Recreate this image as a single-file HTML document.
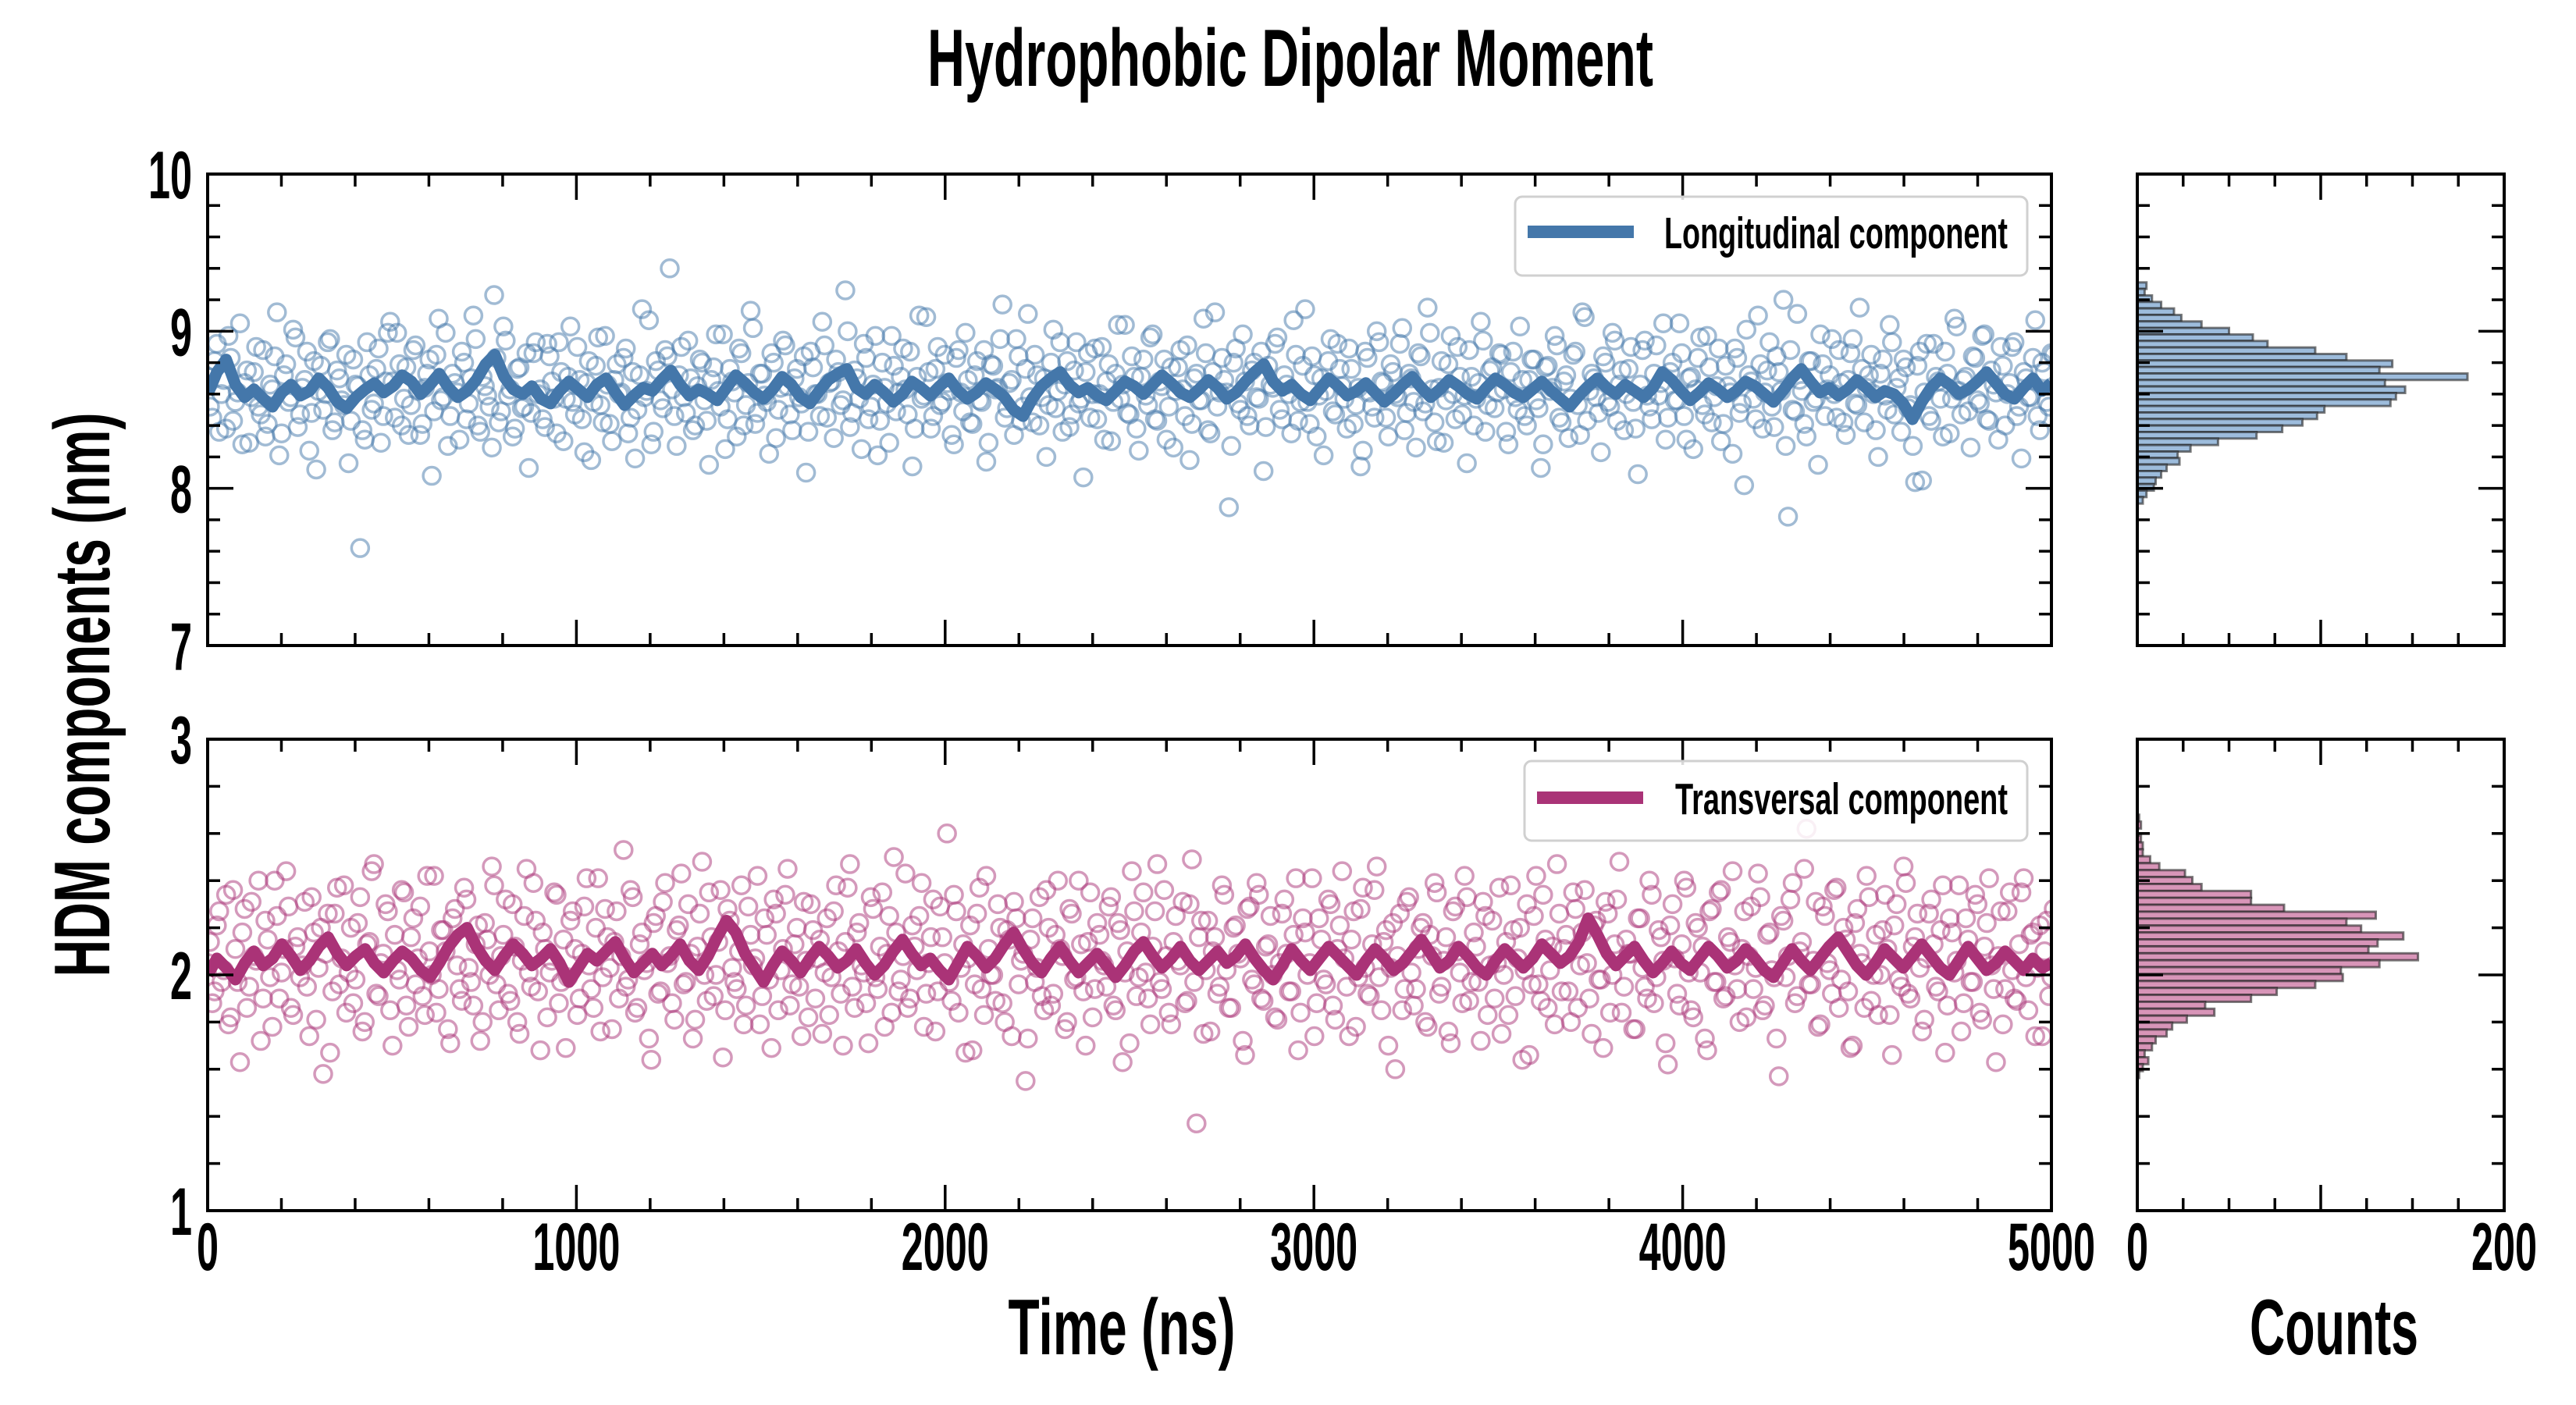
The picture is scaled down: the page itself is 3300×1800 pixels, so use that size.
<!DOCTYPE html>
<html><head><meta charset="utf-8"><title>Hydrophobic Dipolar Moment</title>
<style>
html,body{margin:0;padding:0;background:#fff;}
svg{display:block;}
text{font-family:"Liberation Sans Narrow","Liberation Sans",sans-serif;font-weight:bold;fill:#000;}
</style></head>
<body>
<svg id="chart" width="3300" height="1800" viewBox="0 0 3300 1800" xmlns="http://www.w3.org/2000/svg">
<rect width="3300" height="1800" fill="#fff"/>
<text x="1653" y="110" font-size="104" text-anchor="middle" textLength="930" lengthAdjust="spacingAndGlyphs">Hydrophobic Dipolar Moment</text>
<text transform="translate(140,890) rotate(-90)" x="0" y="0" font-size="101" text-anchor="middle" textLength="723" lengthAdjust="spacingAndGlyphs">HDM components (nm)</text>
<text x="1437" y="1735" font-size="101" text-anchor="middle" textLength="291" lengthAdjust="spacingAndGlyphs">Time (ns)</text>
<text x="2990" y="1735" font-size="101" text-anchor="middle" textLength="216" lengthAdjust="spacingAndGlyphs">Counts</text>
<g id="layer"></g>
</svg>
<script>
// ---------- data ----------
const timeRange = [0, 5000];
const longScatterA = [
8.71,8.45,8.92,8.60,8.38,8.83,8.55,9.05,8.67,8.29,8.74,8.52,8.88,8.41,8.63,9.12,8.35,8.79,8.58,8.96,
8.47,8.69,8.24,8.81,8.62,8.50,8.93,8.37,8.75,8.56,8.85,8.43,8.66,7.62,8.31,8.72,8.54,8.89,8.46,8.99,
8.68,8.99,8.40,8.77,8.53,8.91,8.34,8.64,8.82,8.49,9.08,8.58,8.27,8.73,8.61,8.87,8.44,8.70,8.95,8.36,
8.65,8.52,9.23,8.42,9.03,8.59,8.33,8.76,8.51,8.86,8.48,8.93,8.63,8.39,8.84,8.57,8.93,8.30,8.71,8.55,
8.90,8.44,8.67,8.18,8.78,8.53,8.97,8.41,8.69,8.60,8.83,8.35,8.74,8.50,9.14,8.62,8.28,8.81,8.56,8.88,
9.40,8.46,8.72,8.58,8.94,8.37,8.65,8.80,8.43,8.69,8.98,8.52,8.25,8.76,8.61,8.89,8.40,8.67,9.02,8.48,
8.73,8.55,8.86,8.32,8.64,8.91,8.47,8.70,8.58,8.84,8.36,8.77,8.60,9.06,8.45,8.68,8.82,8.53,9.26,8.39,
8.75,8.57,8.92,8.44,8.66,8.21,8.80,8.54,8.97,8.49,8.71,8.63,8.87,8.38,9.10,8.59,8.74,8.46,8.90,8.55,
8.67,8.34,8.83,8.61,8.99,8.42,8.72,8.56,8.88,8.29,8.78,8.64,9.17,8.51,8.69,8.95,8.43,8.76,8.58,8.85,
8.40,8.70,8.53,9.01,8.62,8.36,8.81,8.47,8.93,8.57,8.74,8.45,8.89,8.60,8.31,8.79,8.55,9.04,8.66,8.48,
8.84,8.38,8.71,8.59,8.96,8.44,8.68,8.82,8.52,8.26,8.77,8.63,8.91,8.41,8.73,8.56,8.86,8.35,9.12,8.61,
8.69,7.88,8.80,8.54,8.98,8.46,8.75,8.58,8.87,8.39,8.66,8.92,8.50,8.72,8.60,9.07,8.43,8.78,8.55,8.84,
8.33,8.70,8.62,8.95,8.47,8.76,8.57,8.89,8.41,8.64,8.24,8.83,8.52,9.00,8.68,8.45,8.79,8.60,8.92,8.37,
8.73,8.55,8.86,8.49,9.15,8.63,8.30,8.81,8.56,8.97,8.44,8.71,8.59,8.88,8.40,8.67,8.94,8.53,8.77,8.61,
8.85,8.36,8.74,8.58,9.03,8.46,8.69,8.82,8.51,8.28,8.78,8.64,8.91,8.42,8.72,8.57,8.87,8.34,9.09,8.62,
8.70,8.48,8.84,8.55,8.99,8.43,8.75,8.60,8.90,8.38,8.66,8.94,8.52,8.73,8.59,9.05,8.45,8.80,8.56,8.86,
8.31,8.71,8.63,8.96,8.47,8.77,8.58,8.89,8.41,8.65,8.22,8.83,8.54,9.01,8.68,8.44,8.79,8.61,8.93,8.39,
8.74,9.20,7.82,8.50,9.11,8.62,8.33,8.81,8.57,8.98,8.46,8.72,8.60,8.88,8.42,8.69,8.95,8.53,8.76,8.64,
8.85,8.37,8.73,8.59,9.04,8.47,8.70,8.82,8.51,8.27,8.78,8.05,8.92,8.43,8.71,8.57,8.87,8.35,9.08,8.62,
8.69,8.49,8.84,8.56,8.97,8.44,8.75,8.61,8.90,8.40,8.67,8.93,8.52,8.74,8.58,8.83,8.46,8.80,8.55,8.86
];
const longScatterB = [
8.52,8.81,8.36,8.69,8.97,8.43,8.61,8.28,8.75,8.58,8.90,8.47,8.33,8.66,8.84,8.21,8.72,8.55,9.01,8.39,
8.64,8.87,8.48,8.12,8.78,8.60,8.95,8.42,8.70,8.53,8.16,8.82,8.65,8.37,8.93,8.50,8.76,8.29,8.68,9.06,
8.45,8.79,8.57,8.34,8.88,8.62,8.41,8.73,8.08,8.85,8.56,8.99,8.46,8.67,8.31,8.80,8.54,9.10,8.40,8.71,
8.59,8.26,8.83,8.49,8.94,8.63,8.38,8.77,8.52,8.13,8.86,8.60,8.44,8.92,8.68,8.35,8.74,8.57,9.03,8.47,
8.69,8.23,8.81,8.55,8.96,8.42,8.66,8.30,8.79,8.61,8.89,8.45,8.19,8.72,8.58,9.07,8.36,8.75,8.51,8.84,
8.63,8.27,8.90,8.48,8.70,8.40,8.82,8.56,8.15,8.77,8.62,8.98,8.44,8.68,8.33,8.86,8.53,9.13,8.41,8.73,
8.59,8.22,8.80,8.50,8.94,8.65,8.37,8.76,8.54,8.10,8.87,8.60,8.46,8.91,8.67,8.32,8.74,8.56,9.00,8.48,
8.70,8.25,8.83,8.52,8.97,8.43,8.64,8.29,8.78,8.61,8.89,8.47,8.14,8.71,8.57,9.09,8.38,8.76,8.53,8.85,
8.62,8.28,8.88,8.49,8.69,8.41,8.81,8.55,8.17,8.79,8.63,8.95,8.45,8.67,8.34,8.84,8.52,9.11,8.42,8.72,
8.58,8.20,8.80,8.51,8.93,8.66,8.39,8.75,8.54,8.07,8.86,8.60,8.44,8.90,8.68,8.30,8.73,8.57,9.04,8.47,
8.71,8.24,8.82,8.53,8.98,8.43,8.65,8.31,8.77,8.62,8.88,8.46,8.18,8.70,8.56,9.08,8.37,8.74,8.52,8.83,
8.61,8.27,8.89,8.50,8.68,8.40,8.80,8.57,8.11,8.78,8.64,8.96,8.44,8.66,8.35,8.85,8.55,9.14,8.41,8.72,
8.59,8.21,8.81,8.49,8.92,8.65,8.38,8.76,8.53,8.14,8.87,8.61,8.45,8.93,8.67,8.33,8.74,8.58,9.02,8.48,
8.70,8.26,8.84,8.54,8.99,8.42,8.64,8.29,8.79,8.60,8.90,8.47,8.16,8.71,8.57,9.06,8.36,8.75,8.51,8.86,
8.63,8.28,8.87,8.50,8.69,8.40,8.82,8.56,8.13,8.77,8.62,8.97,8.45,8.68,8.32,8.85,8.53,9.12,8.43,8.73,
8.58,8.23,8.80,8.52,8.94,8.66,8.37,8.76,8.55,8.09,8.88,8.59,8.44,8.91,8.67,8.31,8.74,8.56,9.05,8.46,
8.70,8.25,8.83,8.53,8.97,8.42,8.65,8.30,8.78,8.61,8.89,8.48,8.02,8.72,8.57,9.10,8.38,8.75,8.52,8.84,
8.62,8.27,8.88,8.49,8.69,8.41,8.81,8.55,8.15,8.79,8.63,8.95,8.45,8.67,8.34,8.86,8.54,9.15,8.42,8.72,
8.60,8.20,8.82,8.50,8.93,8.64,8.36,8.77,8.53,8.04,8.87,8.61,8.46,8.92,8.68,8.33,8.73,8.57,9.03,8.47,
8.71,8.26,8.83,8.54,8.98,8.43,8.66,8.31,8.78,8.60,8.90,8.46,8.19,8.70,8.58,9.07,8.37,8.74,8.52,8.85
];
const transScatterA = [
2.05,1.88,2.21,1.97,2.34,1.82,2.11,1.63,2.28,1.95,2.08,2.40,1.90,2.15,1.78,2.25,2.01,2.44,1.86,2.12,
1.99,2.31,1.74,2.18,2.03,1.58,2.26,1.93,2.37,2.07,1.84,2.20,1.98,2.33,1.80,2.14,2.47,1.91,2.09,2.27,
1.70,2.02,2.36,1.87,2.16,1.96,2.29,1.83,2.10,2.42,1.94,2.19,1.77,2.24,2.04,1.89,2.32,1.97,2.13,1.72,
2.22,2.00,2.38,1.85,2.17,1.92,2.30,1.80,2.06,2.45,1.95,2.23,1.68,2.11,2.01,2.35,1.88,2.15,1.99,2.27,
1.83,2.09,2.41,1.94,2.20,1.76,2.28,2.03,2.14,1.90,2.53,1.98,2.33,1.86,2.18,2.05,1.64,2.25,1.93,2.39,
2.08,1.81,2.21,1.96,2.30,1.73,2.12,2.48,1.89,2.16,2.00,2.36,1.85,2.23,1.97,2.10,1.79,2.29,2.04,2.42,
1.91,2.17,1.69,2.26,2.02,2.34,1.87,2.13,1.95,2.31,1.82,2.19,2.07,1.75,2.24,1.99,2.38,1.92,2.14,2.47,
1.86,2.22,2.01,1.71,2.28,1.94,2.35,2.09,1.84,2.18,1.98,2.43,1.90,2.12,2.25,1.78,2.05,2.32,1.93,2.16,
2.60,1.89,2.27,2.03,1.67,2.21,1.96,2.37,1.83,2.11,2.00,2.30,1.88,2.19,1.74,2.24,2.06,1.55,2.15,1.97,
2.33,1.85,2.20,1.92,2.40,2.08,1.80,2.26,1.99,2.13,1.70,2.35,1.94,2.17,2.04,2.29,1.87,2.22,1.63,2.10,
2.44,1.91,2.18,2.01,1.79,2.27,1.97,2.36,1.84,2.14,2.06,2.31,1.89,2.49,1.37,2.23,2.02,1.76,2.16,1.95,
2.34,1.86,2.20,2.09,1.72,2.28,1.98,2.39,1.90,2.12,2.25,1.82,2.05,2.32,1.93,2.17,1.68,2.24,2.00,2.41,
1.88,2.15,1.96,2.30,1.81,2.21,2.07,1.74,2.27,1.99,2.37,1.92,2.13,2.46,1.85,2.19,2.03,1.60,2.26,1.94,
2.33,1.87,2.11,2.22,1.78,2.08,2.35,1.95,2.16,1.71,2.29,2.01,2.42,1.89,2.18,1.97,2.31,1.83,2.23,2.05,
1.75,2.14,2.38,1.91,2.20,2.02,1.66,2.25,1.96,2.34,1.86,2.12,2.47,1.93,2.17,1.80,2.28,2.04,2.36,1.90,
2.21,1.98,1.69,2.26,2.00,2.32,1.84,2.15,2.09,1.77,2.24,1.95,2.40,1.88,2.19,2.06,1.62,2.30,1.92,2.13,
2.37,1.85,2.22,2.01,1.73,2.27,1.97,2.35,1.90,2.16,2.44,1.94,2.11,1.82,2.29,2.03,2.33,1.87,2.18,1.99,
1.57,2.23,2.08,2.39,1.91,2.14,2.62,1.96,2.31,1.79,2.25,2.02,2.36,1.86,2.20,1.93,1.70,2.28,2.05,2.42,
1.89,2.17,2.00,2.34,1.83,2.21,1.98,2.46,1.92,2.12,2.26,1.76,2.07,2.32,1.95,2.19,1.67,2.24,2.01,2.38,
1.88,2.15,1.97,2.30,1.81,2.22,2.04,1.63,2.27,1.94,2.35,1.90,2.13,2.41,1.85,2.18,2.03,1.74,2.23,1.99
];
const transScatterB = [
2.14,1.93,2.27,2.02,1.79,2.36,1.97,2.18,1.86,2.31,2.06,1.72,2.23,1.99,2.40,1.90,2.11,2.29,1.83,2.16,
2.04,1.95,2.33,1.81,2.20,2.09,1.67,2.26,1.96,2.38,2.01,1.88,2.22,1.76,2.13,2.44,1.92,2.05,2.30,1.85,
2.17,1.98,2.35,1.78,2.24,2.07,1.91,2.42,2.00,1.84,2.19,2.10,1.71,2.28,1.94,2.37,2.03,1.87,2.21,1.80,
2.15,2.46,1.96,2.08,2.32,1.89,2.12,1.75,2.25,2.01,2.39,1.93,2.18,1.82,2.06,2.34,1.97,1.69,2.23,2.11,
1.90,2.29,2.04,1.86,2.41,1.99,2.16,1.77,2.27,2.08,1.95,2.36,1.84,2.13,2.02,1.73,2.22,1.92,2.31,2.05,
1.88,2.19,2.43,1.97,2.09,1.81,2.26,2.00,2.35,1.91,2.14,1.65,2.28,2.03,1.94,2.38,1.87,2.17,2.07,1.79,
2.24,1.98,2.32,1.85,2.11,2.45,1.96,2.20,1.74,2.06,2.30,1.90,2.15,2.01,1.83,2.27,2.10,1.70,2.37,1.95,
2.18,2.04,1.88,2.33,1.99,2.12,1.78,2.25,2.50,1.93,2.08,1.86,2.21,2.02,2.39,1.92,2.16,1.76,2.29,2.05,
1.97,2.34,1.84,2.13,2.07,1.68,2.26,1.94,2.42,2.00,1.89,2.20,1.80,2.15,2.31,1.96,2.09,1.73,2.24,2.03,
1.91,2.36,1.87,2.17,2.11,1.77,2.28,1.98,2.40,1.93,2.14,1.82,2.22,2.06,1.95,2.33,1.85,2.19,2.01,1.71,
2.27,1.99,2.35,1.90,2.12,2.47,1.94,2.08,1.79,2.25,2.04,1.88,2.30,1.97,2.16,1.75,2.23,2.10,1.92,2.38,
2.02,1.86,2.21,2.07,1.66,2.29,1.96,2.34,1.89,2.13,2.00,1.81,2.26,2.09,1.93,2.41,1.84,2.18,2.05,1.74,
2.24,1.98,2.32,1.87,2.11,2.44,1.95,2.15,1.78,2.28,2.03,1.91,2.36,1.99,2.14,1.70,2.22,2.08,1.85,2.31,
2.01,1.94,2.20,1.80,2.17,2.39,1.92,2.06,1.76,2.27,2.10,1.88,2.33,1.97,2.12,1.72,2.25,2.04,1.90,2.37,
2.00,1.83,2.19,2.07,1.64,2.30,1.96,2.42,1.89,2.15,2.02,1.79,2.26,2.11,1.93,2.35,1.86,2.18,2.05,1.75,
2.23,1.98,2.31,1.84,2.13,2.48,1.95,2.09,1.77,2.24,2.03,1.90,2.34,1.99,2.16,1.71,2.21,2.07,1.87,2.40,
2.01,1.82,2.20,2.12,1.68,2.28,1.97,2.36,1.91,2.14,2.04,1.80,2.27,2.08,1.94,2.43,1.85,2.17,2.02,1.73,
2.25,1.99,2.32,1.88,2.10,2.45,1.96,2.06,1.78,2.29,2.05,1.92,2.37,1.98,2.15,1.69,2.22,2.09,1.86,2.33,
2.00,1.83,2.19,2.11,1.66,2.30,1.95,2.39,1.90,2.16,2.03,1.81,2.26,2.13,1.93,2.38,1.87,2.18,2.06,1.76,
2.24,1.97,2.34,1.84,2.12,2.41,1.94,2.08,1.79,2.27,2.02,1.89,2.35,1.99,2.17,1.74,2.21,2.10,1.91,2.28
];
const longLine = [
8.60,8.74,8.82,8.66,8.58,8.63,8.57,8.52,8.61,8.66,8.59,8.62,8.70,8.64,8.55,8.51,8.58,8.63,8.67,8.61,
8.65,8.72,8.68,8.60,8.66,8.73,8.64,8.58,8.62,8.69,8.79,8.85,8.71,8.63,8.60,8.65,8.57,8.54,8.62,8.68,
8.63,8.58,8.66,8.70,8.61,8.53,8.59,8.64,8.62,8.69,8.75,8.66,8.59,8.63,8.60,8.56,8.64,8.72,8.67,8.61,
8.57,8.63,8.71,8.66,8.58,8.54,8.62,8.69,8.73,8.76,8.64,8.60,8.66,8.61,8.55,8.60,8.68,8.64,8.59,8.65,
8.70,8.62,8.57,8.61,8.67,8.63,8.58,8.50,8.46,8.57,8.65,8.70,8.74,8.66,8.61,8.64,8.59,8.56,8.62,8.68,
8.65,8.60,8.66,8.72,8.67,8.61,8.58,8.63,8.69,8.64,8.57,8.61,8.68,8.74,8.79,8.68,8.62,8.66,8.60,8.56,
8.63,8.70,8.65,8.59,8.62,8.67,8.61,8.55,8.60,8.66,8.71,8.64,8.58,8.63,8.69,8.65,8.60,8.57,8.64,8.70,
8.66,8.61,8.58,8.63,8.68,8.62,8.57,8.52,8.59,8.65,8.70,8.64,8.60,8.66,8.62,8.58,8.64,8.74,8.69,8.62,
8.56,8.61,8.67,8.63,8.58,8.62,8.68,8.65,8.60,8.55,8.62,8.70,8.76,8.68,8.61,8.64,8.59,8.63,8.69,8.64,
8.58,8.62,8.60,8.54,8.44,8.55,8.64,8.70,8.66,8.60,8.63,8.68,8.74,8.67,8.60,8.57,8.64,8.70,8.62,8.67
];
const transLine = [
2.00,2.07,2.03,1.98,2.05,2.10,2.04,2.07,2.13,2.08,2.02,2.06,2.12,2.16,2.09,2.04,2.08,2.11,2.05,2.01,
2.06,2.10,2.07,2.02,1.99,2.05,2.12,2.17,2.20,2.12,2.06,2.02,2.08,2.13,2.09,2.04,2.07,2.11,2.05,1.97,
2.03,2.09,2.06,2.10,2.14,2.07,2.01,2.05,2.09,2.04,2.08,2.13,2.06,2.02,2.08,2.16,2.23,2.18,2.09,2.03,
1.97,2.04,2.10,2.06,2.01,2.07,2.12,2.08,2.03,2.06,2.11,2.05,2.00,2.04,2.10,2.15,2.09,2.04,2.07,2.02,
1.98,2.05,2.12,2.08,2.03,2.07,2.13,2.18,2.11,2.05,2.01,2.07,2.12,2.06,2.01,2.05,2.09,2.04,1.99,2.04,
2.10,2.14,2.08,2.03,2.07,2.12,2.06,2.02,2.06,2.10,2.05,2.08,2.13,2.07,2.02,1.98,2.04,2.11,2.06,2.02,
2.07,2.12,2.08,2.04,2.00,2.06,2.11,2.07,2.02,2.05,2.10,2.15,2.09,2.03,2.06,2.12,2.08,2.03,2.00,2.06,
2.11,2.07,2.03,2.07,2.13,2.09,2.05,2.08,2.14,2.24,2.17,2.09,2.04,2.08,2.12,2.06,2.01,2.05,2.10,2.05,
2.02,2.07,2.12,2.08,2.03,2.06,2.11,2.07,2.02,1.99,2.05,2.11,2.06,2.02,2.07,2.12,2.16,2.10,2.04,2.00,
2.05,2.11,2.07,2.03,2.08,2.13,2.08,2.03,2.00,2.06,2.12,2.07,2.02,2.05,2.10,2.06,2.02,2.07,2.03,2.05
];
// histograms: bin centers start at top value and step downward
const longHistTop = 9.29, longHistStep = 0.0414;
const longCounts = [5,4,8,13,20,24,35,50,63,71,97,114,139,132,180,135,146,141,138,102,98,90,79,65,44,29,22,23,16,13,10,9,5,3];
const transHistTop = 2.665, transHistStep = 0.0294;
const transCounts = [1,2,0,2,3,3,7,12,26,30,35,62,62,80,130,114,122,145,131,126,153,132,111,112,97,76,62,37,42,27,19,16,10,8,4,6,3,1];
const xTicks = [0,1000,2000,3000,4000,5000];
const longYTicks = [7,8,9,10];
const transYTicks = [1,2,3];
const countTicks = [0,200];

// ---------- layout ----------
const NS = 'http://www.w3.org/2000/svg';
const layer = document.getElementById('layer');
const L = 266, R = 2628, HL = 2738, HR = 3208;
const P1 = {top:223, bot:827, lo:7, hi:10};
const P2 = {top:947, bot:1551, lo:1, hi:3};
const xS = t => L + (t - timeRange[0]) / (timeRange[1] - timeRange[0]) * (R - L);
const cS = c => HL + c / 200 * (HR - HL);
const yS = (p, v) => p.bot - (v - p.lo) / (p.hi - p.lo) * (p.bot - p.top);
function mk(tag, attrs, parent){ const e = document.createElementNS(NS, tag); for (const k in attrs) e.setAttribute(k, attrs[k]); (parent||layer).appendChild(e); return e; }

function drawPanel(p, sets, line, color, lineColor, pname){
  const g = mk('g', {});
  
  
  const clip = mk('clipPath', {id: pname + '-clip'}, g);
  mk('rect', {x:L, y:p.top, width:R-L, height:p.bot-p.top}, clip);
  const sg = mk('g', {'clip-path':'url(#' + pname + '-clip)'}, g);
  
  
  sets.forEach((scatter, si) => {
    const n = scatter.length;
    const span = timeRange[1] - timeRange[0];
    const off = si * span / (n - 1) / sets.length;
    scatter.forEach((v, i) => {
      const c = mk('circle', {cx: xS(timeRange[0] + off + i * span / (n-1)), cy: yS(p, v), r: 11, fill:'none', stroke: color, 'stroke-width': 3.5, 'stroke-opacity': 0.5}, sg);
      
      
    });
  });
  const m = line.length;
  const d = line.map((v, i) => (i ? 'L' : 'M') + xS(timeRange[0] + i * (timeRange[1]-timeRange[0]) / (m-1)).toFixed(1) + ' ' + yS(p, v).toFixed(1)).join(' ');
  const pl = mk('path', {d: d, fill:'none', stroke: lineColor, 'stroke-width': 15, 'stroke-linejoin':'round'}, sg);
  
  
}

function drawHist(p, top, step, counts, fill, pname){
  const g = mk('g', {});
  
  
  const h = step / (p.hi - p.lo) * (p.bot - p.top);
  counts.forEach((c, i) => {
    if (c <= 0) return;
    const center = top - i * step;
    const r = mk('rect', {x: cS(0), y: yS(p, center) - h/2, width: cS(c) - cS(0), height: h, fill: fill, stroke:'#222', 'stroke-opacity':0.6, 'stroke-width':3}, g);
    
    
  });
}

function frame(x0, x1, p, name){
  const f = mk('rect', {x:x0, y:p.top, width:x1-x0, height:p.bot-p.top, fill:'none', stroke:'#000', 'stroke-width':4});
  
  
}
function tickLine(x1,y1,x2,y2,name){
  const t = mk('line', {x1:x1,y1:y1,x2:x2,y2:y2,stroke:'#000','stroke-width':3.5});
  
  
}
function label(x, y, txt, anchor, name){
  const t = mk('text', {x:x, y:y, 'font-size':86, 'text-anchor':anchor, textLength: txt.length * 28, lengthAdjust:'spacingAndGlyphs'});
  t.textContent = txt;
  
  
}

function axesTime(p, yTicks, showX, name){
  for (let t = timeRange[0]; t <= timeRange[1]; t += 200) {
    const major = t % 1000 === 0, len = major ? 33 : 16, x = xS(t);
    tickLine(x, p.bot, x, p.bot - len, name + '-x-tick');
    tickLine(x, p.top, x, p.top + len, name + '-x-tick-top');
  }
  const step = 0.2;
  for (let v = p.lo; v <= p.hi + 1e-6; v += step) {
    const major = Math.abs(v - Math.round(v)) < 1e-6, len = major ? 33 : 16, y = yS(p, v);
    tickLine(L, y, L + len, y, name + '-y-tick');
    tickLine(R, y, R - len, y, name + '-y-tick-right');
    tickLine(HL, y, HL + len, y, name + '-hist-y-tick');
    tickLine(HR, y, HR - len, y, name + '-hist-y-tick-right');
  }
  for (let c = 0; c <= 200; c += 25) {
    const major = c % 100 === 0, len = major ? 33 : 16, x = cS(c);
    tickLine(x, p.bot, x, p.bot - len, name + '-count-tick');
    tickLine(x, p.top, x, p.top + len, name + '-count-tick-top');
  }
  yTicks.forEach(v => label(L - 20, yS(p, v) + 31, String(v), 'end', name + '-y-tick-label'));
  if (showX) {
    xTicks.forEach(t => label(xS(t), p.bot + 76, String(t), 'middle', 'x-tick-label'));
    countTicks.forEach(c => label(cS(c), p.bot + 76, String(c), 'middle', 'count-tick-label'));
  }
}

function legend(x, y, w, h, lineY, txt, color, textLen, name){
  const g = mk('g', {});
  
  
  mk('rect', {x:x, y:y, width:w, height:h, rx:9, fill:'#fff', 'fill-opacity':0.85, stroke:'#d0d0d0', 'stroke-width':3}, g);
  const s = mk('line', {x1:x+16, x2:x+152, y1:lineY, y2:lineY, stroke:color, 'stroke-width':16}, g);
  
  
  const t = mk('text', {x: x + w - 25, y: lineY + 21, 'font-size':57, 'text-anchor':'end', textLength:textLen, lengthAdjust:'spacingAndGlyphs'}, g);
  t.textContent = txt;
  
  
}

drawPanel(P1, [longScatterA, longScatterB], longLine, '#4477aa', '#4477aa', 'longitudinal');
drawPanel(P2, [transScatterA, transScatterB], transLine, '#aa3377', '#aa3377', 'transversal');
drawHist(P1, longHistTop, longHistStep, longCounts, '#9dbcdc', 'longitudinal');
drawHist(P2, transHistTop, transHistStep, transCounts, '#d895b8', 'transversal');
axesTime(P1, longYTicks, false, 'top');
axesTime(P2, transYTicks, true, 'bottom');
frame(L, R, P1, 'top-scatter');
frame(L, R, P2, 'bottom-scatter');
frame(HL, HR, P1, 'top-hist');
frame(HL, HR, P2, 'bottom-hist');
legend(1941, 252, 656, 101, 297, 'Longitudinal component', '#4477aa', 440, 'legend-longitudinal');
legend(1953, 975, 644, 102, 1022, 'Transversal component', '#aa3377', 426, 'legend-transversal');
</script>
</body></html>
